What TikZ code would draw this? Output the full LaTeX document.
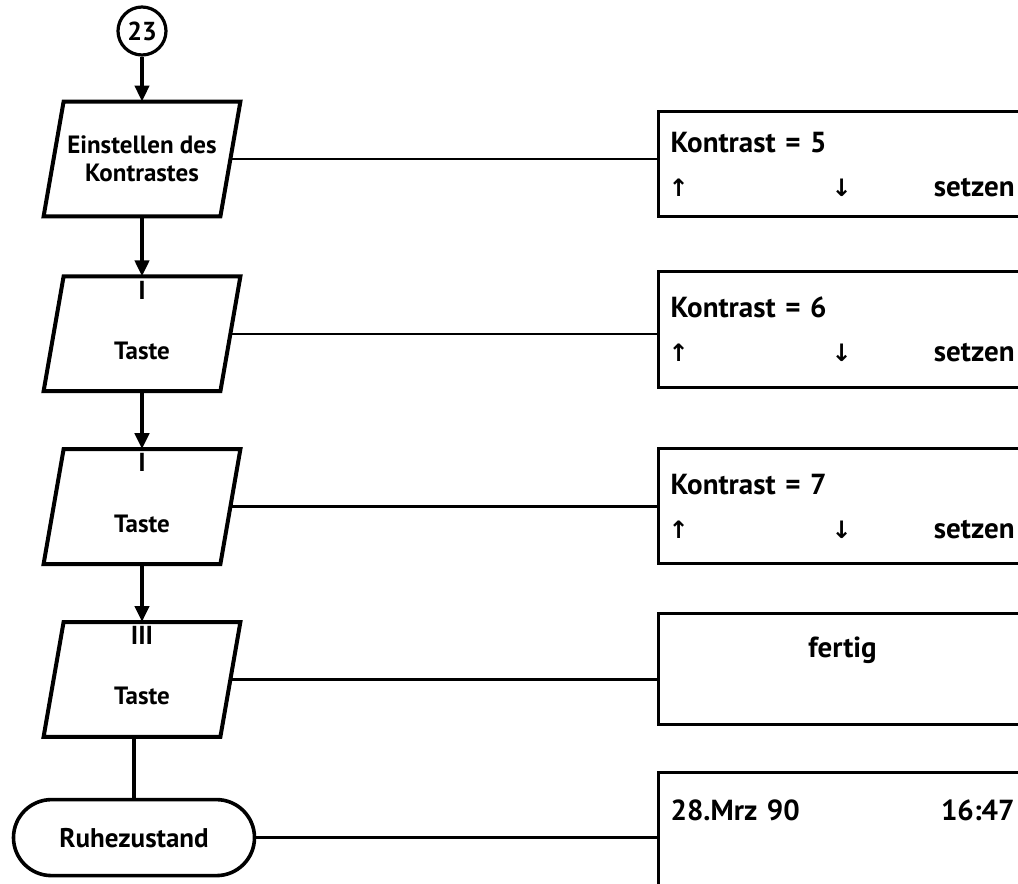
\documentclass[tikz,border=0pt]{standalone}
\usepackage{fontspec}
\setmainfont{PT Sans}
\newfontfamily\arrowfont{DejaVu Sans}
\usetikzlibrary{shapes.geometric, arrows.meta, positioning, calc}

\newcommand{\updown}{{\arrowfont\bfseries\fontsize{12}{12}\selectfont\makebox[8pt]{↑}\hspace{73.5pt}\makebox[8pt]{↓}}}
\newcommand{\inpframe}[1]{\draw[line width=2pt] ($(#1.north west)+(10,0)$) -- ($(#1.north east)+(10,0)$) -- ($(#1.south east)+(-10,0)$) -- ($(#1.south west)+(-10,0)$) -- cycle;}

\begin{document}
\begin{tikzpicture}[x=0.5pt,y=-0.5pt,
 every node/.style={font=\bfseries\fontsize{12.5}{14}\selectfont,align=center},
 conn/.style={circle,draw,line width=1.6pt,minimum size=24pt,inner sep=0pt,font=\bfseries\fontsize{13}{13}\selectfont},
 inp/.style={rectangle,minimum width=88pt,minimum height=57pt,inner sep=0pt},
 term/.style={rectangle,rounded corners=19pt,draw,line width=1.8pt,minimum width=120.5pt,minimum height=38pt,font=\bfseries\fontsize{13.5}{15}\selectfont},
 disp/.style={rectangle,draw,line width=1.6pt,anchor=north west,text width=172pt,inner xsep=6pt,align=left,font=\bfseries\fontsize{14.5}{16}\selectfont},
 keylbl/.style={anchor=north,inner sep=2pt,font=\bfseries\fontsize{13}{13}\selectfont},
 arr/.style={-{Triangle[length=8pt,width=7pt]},line width=2pt},
 link/.style={line width=1.2pt}]
\clip (0,0) rectangle (1018,884);
% flowchart column
\node[conn] (c23) at (142,31) {23};
\node[inp,below=22.5pt of c23] (t0) {Einstellen des\\Kontrastes};
\node[inp,below=30pt of t0] (t1) {};
\node[inp,below=29pt of t1] (t2) {};
\node[inp,below=29pt of t2] (t3) {};
\node[term,below=30.5pt of t3,xshift=-4pt] (rz) {Ruhezustand};
\inpframe{t0}
\inpframe{t1}
\inpframe{t2}
\inpframe{t3}
\node[keylbl] (n1) at (t1.north) {I};
\node[keylbl] (n2) at (t2.north) {I};
\node[keylbl] (n3) at (t3.north) {III};
\node (k1) at ($(t1.center)+(0,17)$) {Taste};
\node (k2) at ($(t2.center)+(0,17)$) {Taste};
\node (k3) at ($(t3.center)+(0,17)$) {Taste};
% display column
\node[disp,minimum height=52.5pt] (d0) at (657,110) {Kontrast = 5\\[6pt]\updown\hfill setzen};
\node[disp,minimum height=58pt] (d1) at (657,270) {Kontrast = 6\\[6pt]\updown\hfill setzen};
\node[disp,minimum height=57.5pt] (d2) at (657,447) {Kontrast = 7\\[6pt]\updown\hfill setzen};
\node[disp,minimum height=55.5pt,align=center] (d3) at (657,612) {fertig\\[6pt]~};
\node[disp,minimum height=60pt] (d4) at (657,771) {28.Mrz 90\hfill 16:47\\[6pt]~};
% connectors
\draw[arr] (c23) -- (t0);
\draw[arr] (t0) -- (t1);
\draw[arr] (t1) -- (t2);
\draw[arr] (t2) -- (t3);
\draw[link,line width=2pt] (t3.south -| rz.north) -- (rz.north);
\draw[link] (t0.east) -- (t0.east -| d0.west);
\draw[link] (t1.east) -- (t1.east -| d1.west);
\draw[link] (t2.east) -- (t2.east -| d2.west);
\draw[link] (t3.east) -- (t3.east -| d3.west);
\draw[link] (rz.east) -- (rz.east -| d4.west);
\end{tikzpicture}
\end{document}
